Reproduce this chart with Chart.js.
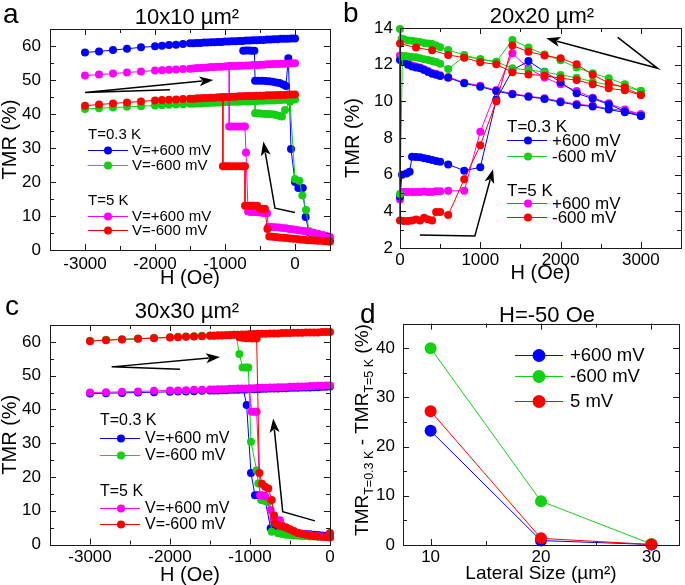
<!DOCTYPE html>
<html>
<head>
<meta charset="utf-8">
<script src="https://cdn.jsdelivr.net/npm/chart.js@4.4.1/dist/chart.umd.min.js"></script>
<style>
  html, body { margin: 0; padding: 0; background: #fff; }
  #wrap { position: relative; width: 685px; height: 585px; overflow: hidden; }
  #wrap canvas { position: absolute; left: 0; top: 0; }
</style>
</head>
<body>
<div id="wrap">
  <canvas id="chartA" width="685" height="585"></canvas>
  <canvas id="chartB" width="685" height="585"></canvas>
  <canvas id="chartC" width="685" height="585"></canvas>
  <canvas id="chartD" width="685" height="585"></canvas>
</div>
<script>
// ---- panel a : 10x10 um2, TMR vs H ----
const aHUp = [-3000,-2800,-2600,-2400,-2200,-2000,-1900,-1800,-1700,-1600,
  -1500,-1450,-1400,-1350,-1300,-1250,-1200,-1150,-1100,-1050,-1000,-950,-900,-850,
  -800,-750,-700,-650,-600,-550,-500,-450,-400,-350,-300,-250,-200,-150,-100,-50,0];
const aBlueUp = [58.1,58.4,58.8,59.2,59.6,59.9,60.1,60.3,60.4,60.6,
  60.8,60.8,60.9,60.9,61.0,61.0,61.1,61.1,61.2,61.2,61.3,61.3,61.4,61.4,
  61.5,61.5,61.6,61.6,61.7,61.7,61.8,61.8,61.9,61.9,62.0,62.0,62.1,62.1,62.1,62.2,62.2];
const aMagUp = [51.3,51.6,51.9,52.2,52.5,52.8,52.9,53.0,53.1,53.2,
  53.3,53.4,53.5,53.5,53.6,53.7,53.8,53.8,53.9,53.9,54.0,54.0,54.1,54.1,
  54.2,54.2,54.3,54.3,54.4,54.4,54.5,54.5,54.6,54.6,54.7,54.7,54.8,54.8,54.8,54.9,54.9];
const aRedUp = [42.4,42.8,43.1,43.4,43.7,44.0,44.1,44.2,44.3,44.4,
  44.5,44.5,44.6,44.6,44.7,44.7,44.8,44.8,44.9,44.9,45.0,45.0,45.1,45.1,
  45.2,45.2,45.3,45.3,45.3,45.4,45.4,45.4,45.5,45.5,45.5,45.6,45.6,45.6,45.7,45.7,45.7];
const aGreenUp = [41.5,41.7,41.9,42.1,42.3,42.5,42.6,42.7,42.8,42.9,
  43.0,43.0,43.1,43.1,43.2,43.2,43.3,43.3,43.4,43.4,43.5,43.5,43.6,43.6,
  43.6,43.7,43.7,43.7,43.8,43.8,43.9,43.9,44.0,44.0,44.0,44.1,44.1,44.2,44.2,44.3,44.3];

const aBlueLowX = [-740,-700,-660,-620,-580,-570,-520,-470,-420,-370,-320,-270,-220,-170,-130,-95,-57,0,48,110,152,200,250,300,350,400,450,500];
const aBlueLowY = [58.6,58.7,58.7,58.6,58.6,49.8,49.8,49.8,49.7,49.6,49.5,49.3,49.1,48.7,48.2,56.4,29.7,20.0,18.2,18.2,9.7,5.2,4.6,4.1,3.8,3.5,3.2,3.0];
const aGreenLowX = [-570,-570,-520,-470,-420,-370,-320,-270,-220,-185,-143,-71,0,62,105,157,200,250,300,350,400,450,500];
const aGreenLowY = [43.8,40.2,40.2,40.1,40.0,40.0,39.9,39.7,39.4,39.3,41.2,43.6,20.9,20.4,16.0,11.8,5.6,4.9,4.4,4.0,3.7,3.4,3.1];
const aMagLowX = [-940,-940,-900,-850,-800,-750,-715,-700,-670,-630,-590,-550,-500,-450,-400,-381,-330,-280,-230,-180,-130,-80,-30,20,70,120,170,220,270,330,400,450,500];
const aMagLowY = [54.1,36.3,36.3,36.3,36.3,36.3,36.3,28.7,11.3,11.2,11.2,11.1,11.0,10.9,10.8,6.8,6.8,6.7,6.6,6.5,6.4,6.2,6.1,5.9,5.7,5.6,5.5,5.3,5.1,4.8,4.4,4.1,3.8];
const aRedLowX = [-1030,-1030,-990,-950,-900,-850,-800,-750,-714,-714,-670,-630,-590,-540,-500,-460,-430,-395,-367,-320,-270,-220,-170,-120,-70,-20,30,80,130,180,230,280,330,380,430,480,500];
const aRedLowY = [44.9,24.6,24.6,24.6,24.6,24.6,24.6,24.6,24.6,13.0,13.0,13.0,13.0,13.0,12.1,12.1,12.1,6.2,4.0,3.9,3.8,3.7,3.6,3.5,3.4,3.3,3.2,3.1,3.0,2.9,2.9,2.8,2.7,2.7,2.6,2.5,2.5];

// ---- panel b : 20x20 um2 ----
const bUpX = [3000,2800,2600,2400,2200,2000,1800,1600,1400,1200,1000,800,600,500,450,400,350,300,250,200,150,100,50,0];
const bBlueUp = [9.2,9.4,9.55,9.72,9.8,9.95,10.13,10.25,10.38,10.56,10.8,10.98,11.29,11.38,11.45,11.5,11.6,11.71,11.8,11.84,11.9,12.0,12.16,12.25];
const bMagUp = [9.3,9.48,9.6,9.76,9.85,10.0,10.17,10.28,10.42,10.6,10.85,11.02,11.33,11.42,11.5,11.55,11.65,11.75,11.85,11.9,11.95,12.1,12.3,12.5];
const bGreenUpX = [3000,2800,2600,2400,2200,2000,1800,1600,1400,1200,1000,800,600,500,450,400,350,300,250,200,150,100,50,20,0];
const bGreenUp = [10.56,10.8,10.89,11.07,11.29,11.44,11.6,11.71,11.8,12.16,12.29,12.53,12.8,12.95,13.05,13.13,13.15,13.18,13.24,13.27,13.3,13.32,13.38,13.42,13.95];
const bRedUpX = [3000,2800,2600,2400,2200,2000,1800,1600,1400,1200,1000,800,600,400,200,0];
const bRedUp = [10.34,10.6,10.71,10.93,11.16,11.26,11.4,11.47,11.58,12.02,12.13,12.38,12.53,12.78,12.93,13.15];

const bLowX = [0,30,60,100,150,200,250,300,350,400,450,500,600,800,1000,1200,1400,1600,1800,2000,2200,2400,2600,2800,3000];
const bGreenLow = [4.95,12.45,12.47,12.45,12.42,12.4,12.35,12.3,12.25,12.2,12.15,12.05,11.76,12.45,12.3,12.16,13.35,12.93,12.55,12.24,11.84,11.53,11.26,10.93,10.56];
const bMagLow = [4.65,5.05,5.05,5.05,5.05,5.05,5.05,5.08,5.05,5.05,5.1,5.1,5.12,5.12,8.34,10.6,12.62,11.8,11.3,10.93,10.56,10.2,9.9,9.55,9.3];
const bBlueLowX = [0,25,80,120,150,200,250,300,350,400,450,500,600,800,1000,1200,1400,1600,1800,2000,2200,2400,2600,2800,3000];
const bBlueLow = [4.8,6.0,6.07,6.16,6.98,6.97,6.95,6.9,6.85,6.8,6.75,6.71,6.56,6.22,6.4,10.1,11.7,12.2,11.62,11.04,10.44,10.15,9.84,9.45,9.22];
const bRedLowX = [0,50,100,150,200,250,300,350,400,450,500,600,800,1000,1200,1400,1600,1800,2000,2200,2400,2600,2800,3000];
const bRedLow = [3.5,3.47,3.47,3.5,3.55,3.5,3.65,3.55,3.5,3.97,3.97,3.8,5.75,7.6,10.0,13.04,12.71,12.5,12.35,12.02,11.45,11.0,10.75,10.34];

// ---- panel c : 30x30 um2 ----
const cHUp = aHUp;
const cRedUp = [60.2,60.5,60.7,60.9,61.1,61.3,61.4,61.5,61.6,61.7,
  61.8,61.8,61.9,61.9,62.0,62.0,62.1,62.1,62.2,62.2,62.3,62.3,62.4,62.4,
  62.4,62.5,62.5,62.5,62.6,62.6,62.6,62.7,62.7,62.7,62.8,62.8,62.8,62.8,62.9,62.9,62.9];
const cMagUp = [45.0,45.1,45.2,45.3,45.5,45.6,45.6,45.7,45.8,45.8,
  45.9,45.9,46.0,46.0,46.0,46.1,46.1,46.2,46.2,46.2,46.3,46.3,46.4,46.4,
  46.4,46.5,46.5,46.6,46.6,46.6,46.7,46.7,46.8,46.8,46.8,46.9,46.9,47.0,47.0,47.1,47.1];
const cBlueUp = [44.7,44.8,44.9,45.0,45.1,45.2,45.3,45.3,45.4,45.5,
  45.6,45.6,45.6,45.7,45.7,45.8,45.8,45.8,45.9,45.9,46.0,46.0,46.0,46.1,
  46.1,46.2,46.2,46.2,46.3,46.3,46.4,46.4,46.4,46.5,46.5,46.5,46.6,46.6,46.7,46.7,46.8];
const cGreenX = [-3000,-2800,-2600,-2400,-2200,-2000,-1900,-1800,-1700,-1600,-1500,-1450,-1400,-1350,-1300,-1250,-1200,-1175,
  -1133,-1092,-1050,-1021,-988,-917,-896,-860,-833,-800,-770,-729,-650,-600,-550,-500,-450,-400,-350,-300,-250,-200,-150,-100,-50,0];
const cGreenY = [60.3,60.6,60.8,61.0,61.2,61.4,61.5,61.6,61.7,61.8,61.9,61.9,62.0,62.0,62.0,62.1,62.1,62.1,
  56.4,52.4,52.4,52.4,30.4,22.0,18.1,13.2,13.0,12.8,12.5,3.8,3.3,3.1,2.9,2.8,2.7,2.6,2.5,2.5,2.4,2.4,2.3,2.3,2.2,2.2];
const cRedLowX = [-1130,-1090,-1050,-1010,-970,-917,-883,-850,-812,-771,-729,-700,-688,-650,-600,-550,-500,-450,-400,-350,-300,-250,-200,-150,-100,-50,0,0];
const cRedLowY = [61.4,61.2,61.1,61.1,61.0,61.0,21.2,18.0,17.1,16.6,13.2,8.6,6.3,5.8,5.4,5.0,4.5,3.9,3.4,3.1,2.9,2.7,2.5,2.4,2.3,2.2,2.1,3.4];
const cMagLowX = [-1008,-979,-950,-917,-875,-845,-812,-742,-708,-667,-625,-600,-550,-500,-450,-400,-350,-300,-250,-200,-150,-100,-50,0];
const cMagLowY = [46.1,39.3,39.3,39.3,14.6,14.5,14.3,10.2,7.3,7.25,7.2,5.6,5.0,4.4,3.9,3.5,3.2,3.0,2.8,2.6,2.5,2.4,2.3,2.2];
const cBlueLowX = [-1083,-1042,-988,-938,-900,-860,-820,-742,-700,-650,-600,-550,-500,-450,-400,-350,-300,-250,-200,-150,-100,-50,0];
const cBlueLowY = [46.0,41.3,21.2,14.6,14.6,14.5,14.4,4.8,4.6,4.2,3.9,3.7,3.5,3.4,3.3,3.2,3.1,3.0,2.9,2.8,2.7,2.6,2.5];

// ---- panel d : H=-50 Oe ----
const dSize = [10, 20, 30];
const dPlus600 = [23.2, 0.9, 0.1];
const dMinus600 = [40.0, 8.9, 0.2];
const d5mV = [27.2, 1.35, 0.1];

// tick values
const abXTicks = [-3000, -2000, -1000, 0], abXMinor = [-2500, -1500, -500];
const acYTicks = [0, 10, 20, 30, 40, 50, 60], acYMinor = [5, 15, 25, 35, 45, 55];
const bXTicks = [0, 1000, 2000, 3000], bXMinor = [500, 1500, 2500];
const bYTicks = [2, 4, 6, 8, 10, 12, 14], bYMinor = [3, 5, 7, 9, 11, 13];
const dXTicks = [10, 20, 30], dXMinor = [15, 25];
const dYTicks = [0, 10, 20, 30, 40], dYMinor = [5, 15, 25, 35];

const FONT = "'Liberation Sans', Arial, Helvetica, sans-serif";
const BLUE = '#0000ff', GREEN = '#12d012', MAGENTA = '#ff00ff', RED = '#ff0000';
Chart.defaults.font.family = FONT;

function pts(xs, ys) { return xs.map((v, i) => ({x: v, y: ys[i]})); }
function series(xs, ys, color, r) {
  return {
    data: pts(xs, ys), showLine: true, borderColor: color, backgroundColor: color,
    borderWidth: 1, pointRadius: r, pointHoverRadius: r, pointBorderWidth: 0,
    pointBackgroundColor: color, clip: false, tension: 0
  };
}

function axis(s, dir) {
  return {
    type: 'linear', min: s.min, max: s.max, bounds: 'data',
    afterBuildTicks: sc => { sc.ticks = s.ticks.map(v => ({value: v})); },
    afterFit: sc => { if (dir === 'x') sc.height = s.size; else sc.width = s.size; },
    grid: {display: false, drawTicks: false},
    border: {display: false},
    ticks: {color: '#000', font: {size: s.font}, padding: s.pad, autoSkip: false, maxRotation: 0,
      callback: v => String(v)},
    title: s.title ? {display: true, text: s.title, color: '#000',
      font: {size: s.tsize || 20, lineHeight: 1}, padding: 0} : {display: false}
  };
}

function makeDecor(d) {
  return {
    id: 'decor',
    afterDraw(chart) {
      const {ctx, chartArea: ca, scales: {x, y}} = chart;
      ctx.save();
      ctx.strokeStyle = '#1a1a1a';
      ctx.lineWidth = 1;
      ctx.beginPath();
      const tk = (vals, len, horiz) => vals.forEach(v => {
        if (horiz) {
          const p = Math.round(x.getPixelForValue(v)) + 0.5;
          ctx.moveTo(p, ca.bottom); ctx.lineTo(p, ca.bottom - len);
          ctx.moveTo(p, ca.top); ctx.lineTo(p, ca.top + len);
        } else {
          const p = Math.round(y.getPixelForValue(v)) + 0.5;
          ctx.moveTo(ca.left, p); ctx.lineTo(ca.left + len, p);
          ctx.moveTo(ca.right, p); ctx.lineTo(ca.right - len, p);
        }
      });
      tk(d.xMajor, 6, true); tk(d.xMinor, 4, true);
      tk(d.yMajor, 6, false); tk(d.yMinor, 4, false);
      ctx.stroke();
      ctx.strokeRect(Math.round(ca.left) + 0.5, Math.round(ca.top) + 0.5,
        Math.round(ca.right - ca.left), Math.round(ca.bottom - ca.top));

      // arrows (in data units)
      (d.arrows || []).forEach(a => {
        const p = a.map(([vx, vy]) => [x.getPixelForValue(vx), y.getPixelForValue(vy)]);
        const n = p.length, [ex, ey] = p[n - 1], [px, py] = p[n - 2];
        const ang = Math.atan2(ey - py, ex - px), L = 14, W = 5;
        ctx.strokeStyle = '#000'; ctx.lineWidth = 1.5;
        ctx.beginPath();
        ctx.moveTo(p[0][0], p[0][1]);
        for (let i = 1; i < n - 1; i++) ctx.lineTo(p[i][0], p[i][1]);
        ctx.lineTo(ex - L * 0.8 * Math.cos(ang), ey - L * 0.8 * Math.sin(ang));
        ctx.stroke();
        ctx.fillStyle = '#000';
        ctx.beginPath();
        ctx.moveTo(ex, ey);
        ctx.lineTo(ex - L * Math.cos(ang) + W * Math.sin(ang), ey - L * Math.sin(ang) - W * Math.cos(ang));
        ctx.lineTo(ex - L * 0.75 * Math.cos(ang), ey - L * 0.75 * Math.sin(ang));
        ctx.lineTo(ex - L * Math.cos(ang) - W * Math.sin(ang), ey - L * Math.sin(ang) + W * Math.cos(ang));
        ctx.closePath();
        ctx.fill();
      });

      // legend
      if (d.legend) {
        const g = d.legend;
        ctx.font = g.size + 'px ' + FONT;
        ctx.textBaseline = 'middle';
        ctx.textAlign = 'left';
        g.rows.forEach(r => {
          if (r.c) {
            ctx.strokeStyle = r.c; ctx.lineWidth = 1;
            ctx.beginPath(); ctx.moveTo(g.x1, r.y + 0.5); ctx.lineTo(g.x2, r.y + 0.5); ctx.stroke();
            ctx.fillStyle = r.c;
            ctx.beginPath(); ctx.arc(g.xm, r.y + 0.5, g.r, 0, Math.PI * 2); ctx.fill();
            ctx.fillStyle = '#000';
            ctx.fillText(r.t, g.xt, r.y + 1);
          } else {
            ctx.fillStyle = '#000';
            ctx.fillText(r.t, g.x1, r.y + 1);
          }
        });
      }

      // titles and panel letters
      ctx.textBaseline = 'alphabetic';
      ctx.fillStyle = '#000';
      (d.texts || []).forEach(t => {
        ctx.font = t.size + 'px ' + FONT;
        ctx.textAlign = t.align || 'left';
        ctx.fillText(t.t, t.x, t.y);
      });

      // rotated y title with subscripts
      if (d.yTitle) {
        const yt = d.yTitle;
        ctx.save();
        ctx.translate(yt.x, yt.y);
        ctx.rotate(-Math.PI / 2);
        ctx.textAlign = 'left';
        const w = yt.parts.map(p => { ctx.font = (p.sub ? yt.sub : yt.size) + 'px ' + FONT; return ctx.measureText(p.t).width; });
        let cx = -w.reduce((s, v) => s + v, 0) / 2;
        yt.parts.forEach((p, i) => {
          ctx.font = (p.sub ? yt.sub : yt.size) + 'px ' + FONT;
          ctx.fillText(p.t, cx, p.sub ? yt.drop : 0);
          cx += w[i];
        });
        ctx.restore();
      }
      ctx.restore();
    }
  };
}

function makeChart(id, cfg) {
  return new Chart(document.getElementById(id), {
    type: 'scatter',
    data: {datasets: cfg.datasets},
    options: {
      responsive: false, animation: false, events: [],
      layout: {padding: cfg.pad},
      plugins: {legend: {display: false}, tooltip: {enabled: false}},
      scales: {x: axis(cfg.x, 'x'), y: axis(cfg.y, 'y')}
    },
    plugins: [makeDecor(cfg.decor)]
  });
}

const R = 4;

// panel a
makeChart('chartA', {
  pad: {left: 0, right: 355, top: 29, bottom: 297},
  x: {min: -3500, max: 500, ticks: abXTicks, size: 38, font: 17, pad: 4, title: 'H (Oe)'},
  y: {min: 0, max: 65, ticks: acYTicks, size: 50, font: 17, pad: 9, title: 'TMR (%)'},
  datasets: [
    series(aHUp, aRedUp, RED, R), series(aRedLowX, aRedLowY, RED, R),
    series(aHUp, aMagUp, MAGENTA, R), series(aMagLowX, aMagLowY, MAGENTA, R),
    series(aHUp, aGreenUp, GREEN, R), series(aGreenLowX, aGreenLowY, GREEN, R),
    series(aHUp, aBlueUp, BLUE, R), series(aBlueLowX, aBlueLowY, BLUE, R)
  ],
  decor: {
    xMajor: abXTicks, xMinor: abXMinor, yMajor: acYTicks, yMinor: acYMinor,
    arrows: [[[-1786, 47.1], [-3000, 46.3], [-1167, 50.0]], [[0, 11.0], [-286, 12.3], [-452, 31.9]]],
    legend: {x1: 88, x2: 128, xm: 108, xt: 132, r: R, size: 15, rows: [
      {t: 'T=0.3 K', y: 134}, {t: 'V=+600 mV', c: BLUE, y: 150}, {t: 'V=-600 mV', c: GREEN, y: 165},
      {t: 'T=5 K', y: 200}, {t: 'V=+600 mV', c: MAGENTA, y: 216}, {t: 'V=-600 mV', c: RED, y: 230}]},
    texts: [{t: 'a', x: 3, y: 23, size: 28}, {t: '10x10 µm²', x: 187, y: 24, size: 22, align: 'center'}]
  }
});

// panel b
makeChart('chartB', {
  pad: {left: 343, right: 4, top: 28, bottom: 302},
  x: {min: 0, max: 3500, ticks: bXTicks, size: 35, font: 17, pad: 2.4, title: 'H (Oe)'},
  y: {min: 2, max: 14, ticks: bYTicks, size: 57, font: 17, pad: 7, title: 'TMR (%)'},
  datasets: [
    series(bRedUpX.concat(bRedLowX), bRedUp.concat(bRedLow), RED, R),
    series(bGreenUpX.concat(bLowX), bGreenUp.concat(bGreenLow), GREEN, R),
    series(bUpX.concat(bBlueLowX), bBlueUp.concat(bBlueLow), BLUE, R),
    series(bUpX.concat(bLowX), bMagUp.concat(bMagLow), MAGENTA, R)
  ],
  decor: {
    xMajor: bXTicks, xMinor: bXMinor, yMajor: bYTicks, yMinor: bYMinor,
    arrows: [[[2712, 13.49], [3209, 11.8], [1822, 13.44]], [[248, 2.71], [932, 2.65], [1159, 6.3]]],
    legend: {x1: 507, x2: 547, xm: 528, xt: 552, r: R, size: 17, rows: [
      {t: 'T=0.3 K', y: 126}, {t: '+600 mV', c: BLUE, y: 140}, {t: '-600 mV', c: GREEN, y: 156},
      {t: 'T=5 K', y: 190}, {t: '+600 mV', c: MAGENTA, y: 203}, {t: '-600 mV', c: RED, y: 217}]},
    texts: [{t: 'b', x: 343, y: 22, size: 28}, {t: '20x20 µm²', x: 542, y: 23, size: 22, align: 'center'}]
  }
});

// panel c
makeChart('chartC', {
  pad: {left: 0, right: 355, top: 325, bottom: 0},
  x: {min: -3500, max: 0, ticks: abXTicks, size: 40.5, font: 17, pad: 2.6, title: 'H (Oe)'},
  y: {min: 0, max: 65, ticks: acYTicks, size: 50, font: 17, pad: 9, title: 'TMR (%)'},
  datasets: [
    series(cHUp, cRedUp, RED, R), series(cRedLowX, cRedLowY, RED, R),
    series(cHUp, cMagUp, MAGENTA, R), series(cMagLowX, cMagLowY, MAGENTA, R),
    series(cGreenX, cGreenY, GREEN, R),
    series(cHUp, cBlueUp, BLUE, R), series(cBlueLowX, cBlueLowY, BLUE, R)
  ],
  decor: {
    xMajor: abXTicks, xMinor: abXMinor, yMajor: acYTicks, yMinor: acYMinor,
    arrows: [[[-1875, 51.9], [-2729, 52.6], [-1375, 55.5]], [[-188, 7.0], [-591, 9.7], [-710, 37.3]]],
    legend: {x1: 100, x2: 140, xm: 121, xt: 145, r: R, size: 16, rows: [
      {t: 'T=0.3 K', y: 420}, {t: 'V=+600 mV', c: BLUE, y: 438}, {t: 'V=-600 mV', c: GREEN, y: 455},
      {t: 'T=5 K', y: 491}, {t: 'V=+600 mV', c: MAGENTA, y: 508}, {t: 'V=-600 mV', c: RED, y: 524}]},
    texts: [{t: 'c', x: 5, y: 315, size: 28}, {t: '30x30 µm²', x: 187, y: 318, size: 22, align: 'center'}]
  }
});

// panel d
makeChart('chartD', {
  pad: {left: 345, right: 1, top: 323.6, bottom: 2},
  x: {min: 7.5, max: 32.5, ticks: dXTicks, size: 38, font: 17, pad: 2, title: 'Lateral Size (µm²)', tsize: 19},
  y: {min: 0, max: 45, ticks: dYTicks, size: 58, font: 17, pad: 8},
  datasets: [
    series(dSize, d5mV, RED, 6),
    series(dSize, dMinus600, GREEN, 6),
    series(dSize, dPlus600, BLUE, 6)
  ],
  decor: {
    xMajor: dXTicks, xMinor: dXMinor, yMajor: dYTicks, yMinor: dYMinor,
    legend: {x1: 515, x2: 563, xm: 539, xt: 570, r: 6.5, size: 18.5, rows: [
      {t: '+600 mV', c: BLUE, y: 355}, {t: '-600 mV', c: GREEN, y: 376}, {t: '5 mV', c: RED, y: 401}]},
    texts: [{t: 'd', x: 360, y: 323, size: 28}, {t: 'H=-50 Oe', x: 547, y: 321.5, size: 22, align: 'center'}],
    yTitle: {x: 368, y: 430, size: 19, sub: 12.5, drop: 4.5, parts: [
      {t: 'TMR'}, {t: 'T=0.3 K', sub: true}, {t: ' - TMR'}, {t: 'T=5 K', sub: true}, {t: ' (%)'}]}
  }
});
</script>
</body>
</html>
